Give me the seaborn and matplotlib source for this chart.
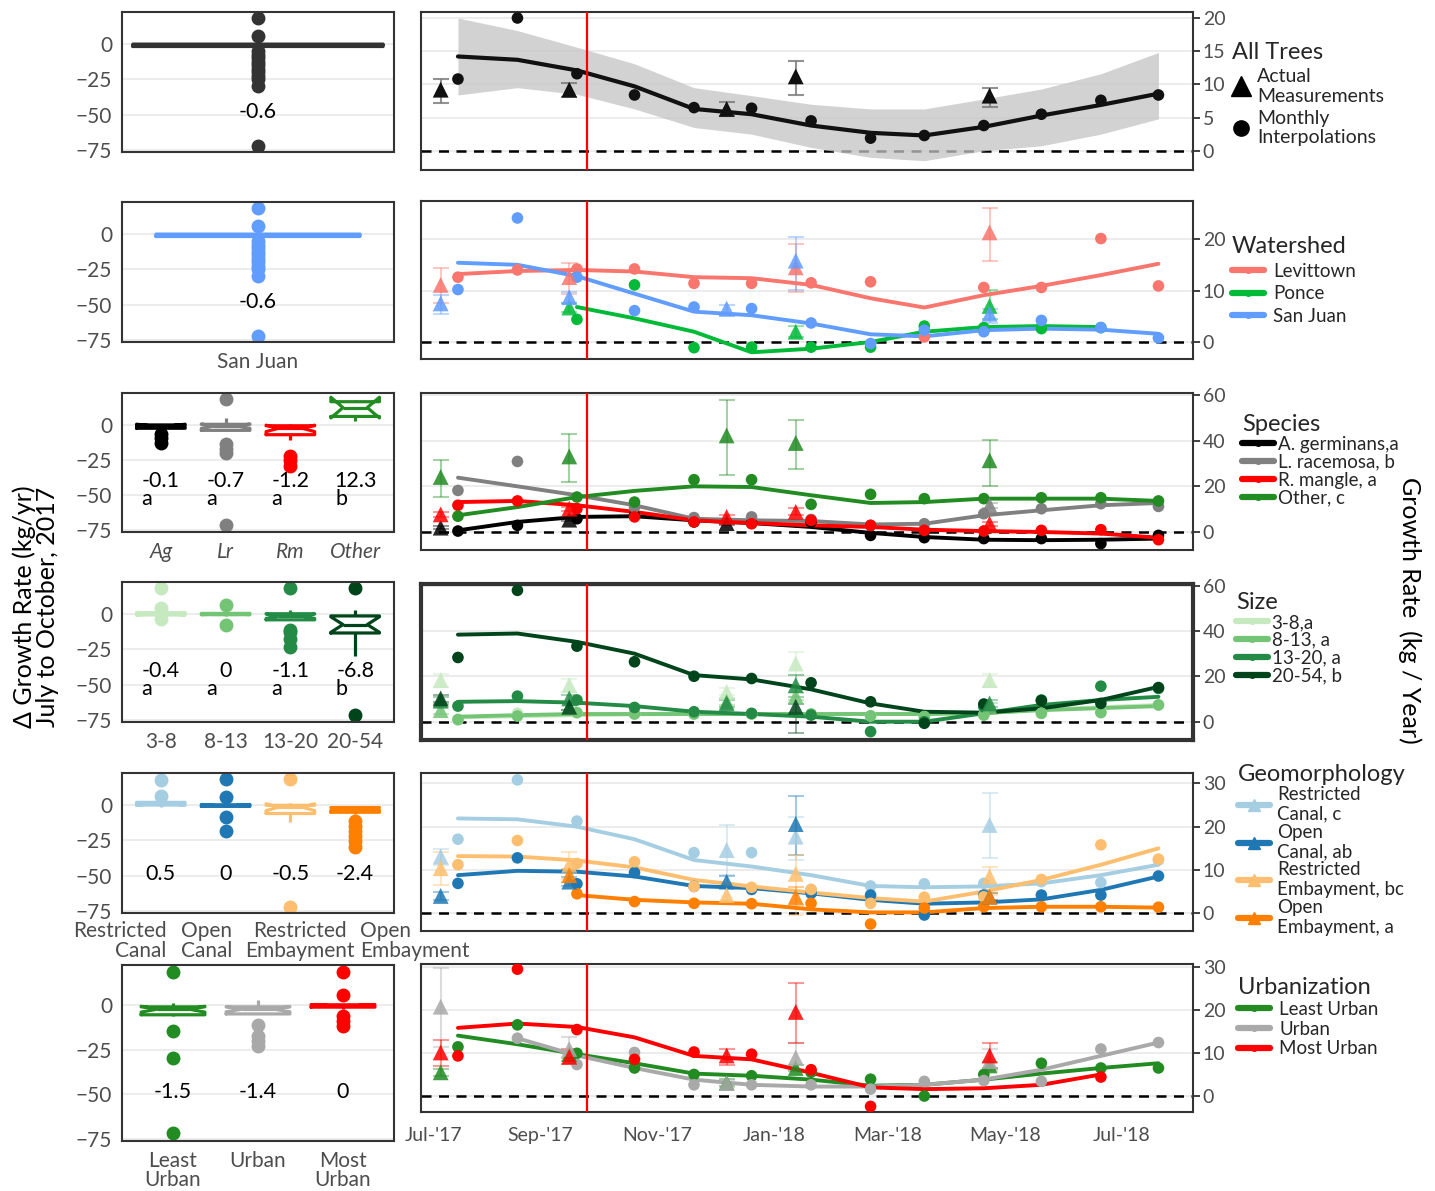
import numpy as np
import pandas as pd
import matplotlib
matplotlib.use("Agg")
import matplotlib.pyplot as plt
import matplotlib.dates as mdates
from matplotlib.lines import Line2D
from matplotlib.transforms import blended_transform_factory, ScaledTranslation
import seaborn as sns

sns.set_style("white")
plt.rcParams['font.family'] = ['Lato', 'DejaVu Sans']

# ---------------------------------------------------------------- data
month_dates = ["2017-07-20", "2017-08-20", "2017-09-20", "2017-10-20", "2017-11-20",
               "2017-12-20", "2018-01-20", "2018-02-20", "2018-03-20", "2018-04-20",
               "2018-05-20", "2018-06-20", "2018-07-20"]
meas_dates = ["2017-07-11", "2017-09-16", "2017-12-07", "2018-01-12", "2018-04-23"]
hurricane_date = "2017-09-25"

# Row 1: all trees
all_circ = [10.8, 20.0, 11.6, 8.4, 6.5, 6.4, 4.5, 1.9, 2.3, 3.8, 5.5, 7.6, 8.4]
all_smooth = [14.2, 13.7, 12.1, 9.7, 6.3, 5.5, 3.8, 2.7, 2.3, 3.6, 5.3, 6.9, 8.6]
all_ci_hi = [20.0, 18.1, 15.6, 13.1, 9.5, 8.3, 7.0, 6.3, 6.3, 7.8, 9.3, 11.6, 14.8]
all_ci_lo = [8.4, 9.5, 8.5, 6.3, 3.5, 2.5, 0.5, -1.0, -1.5, 0.0, 0.75, 2.5, 4.8]
all_tri = {"All": [9.2, 9.2, 6.3, 11.2, 8.3]}
all_tri_lo = {"All": [7.2, 8.1, 5.2, 8.4, 6.6]}
all_tri_hi = {"All": [10.8, 10.2, 7.4, 13.5, 9.5]}

# Row 2: watershed
ws_groups = ["Levittown", "Ponce", "San Juan"]
ws_colors = ["#F8766D", "#00BA38", "#619CFF"]
ws_circ = {
    "Levittown": [12.6, 14.0, 14.2, 14.2, 11.4, 11.4, 11.5, 11.7, 1.0, 10.6, 10.6, 20.1, 10.9],
    "Ponce": [None, None, 4.4, 11.1, -1.1, -1.0, -1.0, -1.0, 3.1, 2.8, 2.6, 2.8, None],
    "San Juan": [10.2, 24.1, 12.6, 6.1, 6.8, 6.5, 3.7, -0.3, 2.3, 2.0, 4.2, 2.8, 0.8],
}
ws_smooth = {
    "Levittown": [13.2, 13.8, 14.0, 13.7, 12.6, 12.4, 11.1, 8.5, 6.7, 9.1, 10.9, 13.0, 15.2],
    "Ponce": [None, None, 6.8, 4.6, 2.0, -2.0, -1.3, 0.0, 2.0, 2.9, 3.1, 2.9, None],
    "San Juan": [15.4, 15.0, 12.8, 9.4, 5.9, 5.2, 3.6, 1.5, 1.1, 2.3, 2.6, 2.4, 1.6],
}
ws_tri = {"Levittown": [11.1, 12.6, None, 14.5, 21.3],
          "Ponce": [None, 6.7, None, 2.0, 7.0],
          "San Juan": [7.5, 8.7, 6.5, 15.8, 5.5]}
ws_tri_lo = {"Levittown": [7.5, 9.4, None, 9.8, 15.8],
             "Ponce": [None, 5.8, None, 1.0, 4.5],
             "San Juan": [5.4, 7.6, 5.0, 10.1, 3.6]}
ws_tri_hi = {"Levittown": [14.3, 15.3, None, 19.1, 26.1],
             "Ponce": [None, 7.6, None, 3.2, 10.1],
             "San Juan": [9.1, 9.8, 7.2, 20.5, 6.5]}

# Row 3: species
sp_groups = ["A. germinans,a", "L. racemosa, b", "R. mangle, a", "Other, c"]
sp_colors = ["#000000", "#808080", "#FF0000", "#228B22"]
sp_circ = {
    "A. germinans,a": [0.4, 2.9, 5.8, 7.3, 4.4, 3.9, 4.4, -1.5, -2.5, -2.9, -2.9, -5.1, -1.5],
    "L. racemosa, b": [18.2, 30.9, None, 10.9, 6.3, 6.6, 5.5, 2.9, 3.6, 8.0, 10.2, 12.4, 11.2],
    "R. mangle, a": [11.7, 13.6, 10.2, 6.6, 4.4, 3.6, 5.1, 2.9, 0.7, 0.4, 0.7, 1.0, -3.4],
    "Other, c": [6.9, None, 15.3, 13.1, 22.9, 22.9, 12.1, 16.5, 14.6, 14.6, 15.0, 15.0, 13.6],
}
sp_smooth = {
    "A. germinans,a": [0.7, 4.4, 6.6, 6.9, 5.1, 3.9, 2.2, -0.4, -2.2, -3.4, -3.6, -3.4, -2.9],
    "L. racemosa, b": [23.8, 20.0, 16.1, 11.7, 5.8, 5.1, 4.8, 3.3, 3.6, 7.3, 9.5, 11.7, 12.7],
    "R. mangle, a": [13.1, 13.6, 11.7, 8.8, 5.1, 3.9, 2.9, 2.2, 1.0, 0.4, 0.0, -0.7, -2.5],
    "Other, c": [7.3, 10.9, 15.3, 18.0, 20.0, 19.7, 16.1, 12.7, 13.1, 14.6, 14.6, 14.6, 13.6],
}
sp_tri = {"A. germinans,a": [1.9, 5.4, 3.9, None, None],
          "L. racemosa, b": [None, None, None, None, 11.7],
          "R. mangle, a": [7.7, 10.2, 6.6, 8.8, 3.6],
          "Other, c": [24.1, 33.1, 42.3, 39.0, 31.4]}
sp_tri_lo = {"A. germinans,a": [1.1, 4.6, 3.1, None, None],
             "L. racemosa, b": [None, None, None, None, 10.5],
             "R. mangle, a": [6.7, 9.3, 5.8, 7.3, 2.8],
             "Other, c": [15.3, 21.9, 25.1, 27.7, 20.0]}
sp_tri_hi = {"A. germinans,a": [2.7, 6.2, 4.7, None, None],
             "L. racemosa, b": [None, None, None, None, 12.9],
             "R. mangle, a": [8.7, 11.1, 7.4, 10.3, 4.4],
             "Other, c": [31.4, 42.8, 58.0, 48.9, 40.4]}

# Row 4: size
sz_groups = ["3-8,a", "8-13, a", "13-20, a", "20-54, b"]
sz_colors = ["#C7E9C0", "#74C476", "#238B45", "#00441B"]
sz_circ = {
    "3-8,a": [0.7, 3.7, 4.0, 3.4, 3.4, 3.4, 3.4, 2.6, 2.2, 3.0, 3.7, 4.4, 7.4],
    "8-13, a": [1.0, 2.5, 4.0, 3.4, 3.4, 3.4, 3.4, 2.6, 2.2, 2.9, 3.7, 4.0, 7.4],
    "13-20, a": [6.9, 11.3, 9.6, 6.3, 4.4, 3.7, 2.9, -4.4, 0.0, 6.6, 9.6, 15.7, 14.7],
    "20-54, b": [28.4, 58.1, 33.4, 26.5, 20.1, 19.1, 17.2, 8.8, -0.7, 7.8, 9.3, 8.1, 15.1],
}
sz_smooth = {
    "3-8,a": [1.9, 2.4, 2.9, 3.2, 3.4, 3.4, 3.4, 3.4, 3.5, 3.9, 5.4, 6.4, 7.4],
    "8-13, a": [2.2, 2.9, 3.4, 3.4, 3.4, 3.4, 3.4, 3.4, 3.4, 3.8, 5.1, 6.0, 6.9],
    "13-20, a": [8.8, 9.1, 8.4, 6.9, 4.4, 3.4, 2.2, 0.0, 0.0, 3.7, 7.4, 9.6, 11.0],
    "20-54, b": [38.5, 39.0, 35.3, 30.1, 20.6, 18.7, 14.3, 8.1, 4.4, 4.0, 5.9, 9.6, 15.4],
}
sz_tri = {"3-8,a": [18.4, 16.2, 13.2, 25.7, 18.4],
          "8-13, a": [5.1, 6.6, 8.8, 11.3, 6.6],
          "13-20, a": [9.3, 10.3, 8.1, 16.2, 8.1],
          "20-54, b": [10.3, 6.6, None, 6.6, None]}
sz_tri_lo = {"3-8,a": [15.4, 13.2, 11.7, 20.6, 15.4],
             "8-13, a": [3.6, 5.1, 7.3, 9.8, 5.1],
             "13-20, a": [7.8, 8.8, 6.6, 11.0, 6.6],
             "20-54, b": [8.8, 5.1, None, -5.0, None]}
sz_tri_hi = {"3-8,a": [21.3, 19.1, 14.7, 30.8, 21.3],
             "8-13, a": [6.6, 8.1, 10.3, 12.8, 8.1],
             "13-20, a": [10.8, 11.8, 9.6, 20.6, 9.6],
             "20-54, b": [11.8, 8.1, None, 8.0, None]}

# Row 5: geomorphology
ge_groups = ["Restricted\nCanal, c", "Open\nCanal, ab", "Restricted\nEmbayment, bc", "Open\nEmbayment, a"]
ge_colors = ["#A6CEE3", "#1F78B4", "#FDBF6F", "#FF7F00"]
ge_circ = {
    ge_groups[0]: [17.1, 30.8, 21.3, None, 14.0, 14.0, 5.5, 6.3, 6.8, 6.9, 7.3, 7.1, 12.3],
    ge_groups[1]: [6.9, 12.8, 6.8, 9.4, 6.2, 5.5, 4.6, 4.2, -0.4, 4.2, 4.2, 4.2, 8.6],
    ge_groups[2]: [11.2, 16.8, 11.5, 11.9, 6.2, 6.0, 5.5, 2.3, 3.7, 3.8, 7.8, 15.8, 12.5],
    ge_groups[3]: [None, None, 4.5, 2.7, 2.3, 2.2, 2.3, -2.5, 1.2, 1.5, 1.5, 1.5, 1.4],
}
ge_smooth = {
    ge_groups[0]: [21.9, 21.7, 20.0, 17.1, 12.3, 10.8, 8.8, 6.3, 6.0, 6.2, 6.9, 8.8, 11.2],
    ge_groups[1]: [8.8, 9.8, 9.6, 8.5, 6.3, 5.8, 4.6, 3.1, 2.2, 2.5, 3.2, 5.4, 8.5],
    ge_groups[2]: [13.2, 13.1, 12.2, 10.6, 7.7, 6.2, 4.8, 3.5, 2.7, 5.0, 7.7, 11.2, 15.0],
    ge_groups[3]: [None, None, 4.2, 3.1, 2.5, 2.2, 0.9, 0.2, 0.2, 1.2, 1.5, 1.5, 1.3],
}
ge_tri = {ge_groups[0]: [13.1, None, 14.6, 17.7, 20.4],
          ge_groups[1]: [4.0, 7.3, 7.3, 20.6, 3.8],
          ge_groups[2]: [10.4, 11.2, 4.2, 9.1, 8.5],
          ge_groups[3]: [None, 8.8, None, 3.8, 3.8]}
ge_tri_lo = {ge_groups[0]: [11.2, None, 8.8, 12.3, 12.7],
             ge_groups[1]: [3.0, 6.3, 6.2, 13.5, 3.0],
             ge_groups[2]: [6.5, 8.0, 2.3, -0.4, 4.2],
             ge_groups[3]: [None, 7.3, None, 2.0, 3.0]}
ge_tri_hi = {ge_groups[0]: [14.9, None, 20.4, 22.3, 27.7],
             ge_groups[1]: [5.0, 8.3, 8.5, 27.1, 4.6],
             ge_groups[2]: [14.2, 14.2, 6.9, 13.5, 10.8],
             ge_groups[3]: [None, 10.3, None, 6.0, 4.6]}

# Row 6: urbanization
ur_groups = ["Least Urban", "Urban", "Most Urban"]
ur_colors = ["#228B22", "#A9A9A9", "#FF0000"]
ur_circ = {
    "Least Urban": [11.4, 16.5, 9.9, 6.5, 5.0, 4.7, 5.5, 3.9, 0.0, 5.0, 7.6, 6.5, 6.5],
    "Urban": [None, 13.4, 7.3, 10.1, 2.6, 2.6, 2.6, 1.6, 3.4, 3.6, 3.4, 10.9, 12.4],
    "Most Urban": [9.3, 29.4, 15.4, 8.5, 10.2, 9.7, 6.1, -2.4, None, None, None, 4.4, None],
}
ur_smooth = {
    "Least Urban": [14.0, 12.0, 9.7, 7.6, 5.2, 4.7, 3.8, 2.4, 2.6, 3.8, 5.2, 6.5, 7.6],
    "Urban": [None, 13.4, 9.4, 6.5, 3.8, 2.6, 2.2, 2.2, 2.6, 3.8, 6.1, 9.3, 12.4],
    "Most Urban": [15.8, 16.8, 16.0, 13.6, 9.3, 8.5, 5.4, 2.0, 1.6, 1.8, 2.6, 5.0, None],
}
ur_tri = {"Least Urban": [5.5, 9.7, 3.1, 6.5, 7.1],
          "Urban": [20.7, 10.9, 3.0, 8.9, 8.1],
          "Most Urban": [10.1, 9.1, 9.4, 19.5, 9.4]}
ur_tri_lo = {"Least Urban": [4.7, 8.9, 2.3, 5.7, 6.3],
             "Urban": [11.3, 8.1, 2.2, 6.2, 5.7],
             "Most Urban": [7.0, 7.4, 7.1, 12.4, 6.5]}
ur_tri_hi = {"Least Urban": [6.3, 10.5, 3.9, 7.3, 7.9],
             "Urban": [29.6, 13.6, 3.8, 12.4, 10.8],
             "Most Urban": [13.1, 10.8, 11.0, 26.2, 12.4]}

# Left panels: change in growth rate, July to October 2017 (kg/yr)
all_change = [18.5, 6.0, -5.0, -7.5, -10.0, -12.5, -15.0, -17.5, -20.0, -22.5, -25.0, -29.5, -72.0,
              -2.2, -2.0, -1.9, -1.8, -1.7, -1.6, -1.5, -1.5, -1.4, -1.3, -1.2, -1.2, -1.1, -1.0,
              -1.0, -0.9, -0.9, -0.8, -0.8, -0.7, -0.7, -0.6, -0.6, -0.6, -0.5, -0.5, -0.4, -0.4,
              -0.3, -0.3, -0.2, -0.2, -0.1, -0.1, 0.0, 0.0, 0.1, 0.1, 0.2, 0.2, 0.3, 0.3, 0.4,
              0.4, 0.5, 0.5, 0.6, 0.7]
sp_box_cats = ["Ag", "Lr", "Rm", "Other"]
sp_change = {
    "Ag": [0.6, 0.3, 0.0, -0.1, -0.1, -0.3, -0.8, -1.5, -2.2, -2.6, 0.2, -0.5, -6.5, -9.5, -13.0],
    "Lr": [5.0, 2.0, 0.8, 0.5, 0.0, -0.5, -0.7, -0.9, -1.5, -2.5, -3.3, -4.5, 0.3, -1.0,
           18.3, -13.3, -16.9, -19.9, -71.4],
    "Rm": [0.8, 0.3, 0.0, -0.2, -0.5, -0.8, -1.0, -1.2, -1.5, -2.5, -4.0, -5.0, -5.8, -6.0,
           -8.0, -11.0, -22.0, -25.0, -29.0],
    "Other": [18.0, 16.5, 12.3, 6.0, 3.0],
}
sp_box_means = ["-0.1", "-0.7", "-1.2", "12.3"]
sp_box_letters = ["a", "a", "a", "b"]

sz_box_cats = ["3-8", "8-13", "13-20", "20-54"]
sz_change = {
    "3-8": [1.5, 1.0, 0.5, 0.0, -0.4, -0.4, -0.8, -1.2, 0.2, -0.6, 18.8, 4.5, -3.5],
    "8-13": [1.2, 0.8, 0.4, 0.0, 0.0, -0.3, -0.7, -1.0, 0.2, -0.2, 6.5, -8.0],
    "13-20": [2.9, 1.0, 0.5, 0.0, -0.5, -1.1, -1.5, -2.5, -3.6, -4.5, 0.8, -3.0, -1.0, -2.0,
              18.8, -11.5, -12.6, -17.9, -23.3],
    "20-54": [2.9, 0.5, -1.9, -4.0, -6.8, -8.0, -10.7, -12.0, -17.4, 18.8, -29.3, -71.7],
}
sz_box_means = ["-0.4", "0", "-1.1", "-6.8"]
sz_box_letters = ["a", "a", "a", "b"]

ge_box_cats = ["Restricted Canal", "Open Canal", "Restricted Embayment", "Open Embayment"]
ge_change = {
    "Restricted Canal": [2.5, 2.1, 1.5, 1.0, 0.5, 0.5, 0.0, -0.4, -0.7, -1.0, 1.2, 0.2, 17.8, 6.4],
    "Open Canal": [0.5, 0.3, 0.0, 0.0, 0.0, -0.3, -0.8, -1.2, -1.5, 0.2, -0.5, 0.1,
                   18.2, 5.9, -8.3, -18.0],
    "Restricted Embayment": [1.5, 0.5, 0.0, -0.5, -0.5, -2.0, -4.0, -6.6, -8.0, -12.0, -1.0,
                             -3.0, 18.2, -71.8],
    "Open Embayment": [-6.0, -5.2, -5.0, -4.8, -4.5, -4.0, -3.6, -3.2, -3.0, -2.8, -2.6, -2.5,
                       -2.4, -2.4, -2.3, -2.2, -2.0, -1.8, -1.6, -1.5, -1.4, -1.3, -1.2, -1.0,
                       -0.8, -0.5, -11.4, -14.9, -18.5, -22.0, -25.6, -29.6],
}
ge_box_means = ["0.5", "0", "-0.5", "-2.4"]

ur_box_cats = ["Least Urban", "Urban", "Most Urban"]
ur_change = {
    "Least Urban": [1.3, 0.0, -0.6, -0.8, -1.0, -1.2, -1.5, -1.8, -2.5, -3.5, -4.2, -4.7, -5.5,
                    -6.2, 18.9, -14.6, -29.6, -71.9],
    "Urban": [2.8, 0.0, -0.6, -0.8, -1.0, -1.4, -1.4, -1.8, -2.5, -3.2, -4.0, -4.3, -5.0, -0.3,
              -10.9, -17.4, -20.3, -22.7],
    "Most Urban": [0.8, 0.5, 0.4, 0.2, 0.0, 0.0, 0.0, -0.2, -0.5, -1.0, -1.5, -1.8, 0.1, -0.3,
                   0.3, -0.8, 18.9, 6.0, -6.2, -9.0, -11.8],
}
ur_box_means = ["-1.5", "-1.4", "0"]

# ---------------------------------------------------------------- layout
FW, FH = 1435, 1191
fig = plt.figure(figsize=(FW / 100, FH / 100), dpi=100)


def rect(x0, x1, y0, y1):
    return [x0 / FW, 1 - y1 / FH, (x1 - x0) / FW, (y1 - y0) / FH]


left_rows = [(12, 152), (202, 342), (393, 532), (582, 722), (773, 913), (965, 1141)]
right_rows = [(12, 170), (201, 359), (393, 550), (584, 740), (773, 931), (964, 1112)]
LX0, LX1 = 122, 394
RX0, RX1 = 421, 1193

FRAME = "#333333"
TICKC = "#4D4D4D"
GRID = "#EBEBEB"

mnum = mdates.date2num(pd.to_datetime(month_dates))
tnum = mdates.date2num(pd.to_datetime(meas_dates))
hnum = mdates.date2num(pd.Timestamp(hurricane_date))
xmin = mdates.date2num(pd.Timestamp("2017-06-30 18:00"))
xmax = mdates.date2num(pd.Timestamp("2018-08-07"))


def long_df(dct, xs, order):
    rows = []
    for g in order:
        for x, v in zip(xs, dct[g]):
            if v is not None:
                rows.append((x, v, g))
    return pd.DataFrame(rows, columns=["date", "value", "group"])


def style_right(ax, ylim, yticks, bottom, frame_lw=1.5):
    ax.set_xlim(xmin, xmax)
    ax.set_ylim(*ylim)
    ax.set_yticks(yticks)
    ax.yaxis.tick_right()
    ax.grid(axis="y", color=GRID, lw=1.3)
    ax.grid(axis="x", visible=False)
    ax.set_axisbelow(True)
    ax.axhline(0, color="black", ls=(0, (4, 3)), lw=1.8, zorder=1)
    ax.axvline(hnum, color="red", lw=1.6, zorder=6)
    ax.xaxis.set_major_locator(mdates.MonthLocator(bymonth=[1, 3, 5, 7, 9, 11]))
    ax.xaxis.set_minor_locator(mdates.MonthLocator())
    ax.xaxis.set_major_formatter(mdates.DateFormatter("%b-'%y"))
    ax.tick_params(axis="x", which="both", direction="out", length=6, width=1.3,
                   color=FRAME, labelbottom=bottom, labelsize=14, labelcolor=TICKC, pad=5)
    ax.tick_params(axis="y", direction="out", length=5, width=1.3, color=FRAME,
                   labelright=True, labelleft=False, labelsize=14, labelcolor=TICKC, pad=2)
    for s in ax.spines.values():
        s.set_color(FRAME)
        s.set_linewidth(frame_lw)
    ax.set_xlabel("")
    ax.set_ylabel("")


def draw_series(ax, groups, colors, circ, smooth, tri, tri_lo, tri_hi, tri_alpha=0.85,
                lw=2.8, eb_color=None):
    pal = dict(zip(groups, colors))
    ds = long_df(smooth, mnum, groups)
    dc = long_df(circ, mnum, groups)
    dt = long_df(tri, tnum, groups)
    for g in groups:
        for x, v, lo, hi in zip(tnum, tri[g], tri_lo[g], tri_hi[g]):
            if v is None:
                continue
            ax.errorbar([x], [v], yerr=[[v - lo], [hi - v]], fmt="none",
                        ecolor=eb_color or pal[g], alpha=0.4 if eb_color is None else 0.8,
                        capsize=6, elinewidth=1.5, capthick=1.5, zorder=2)
    sns.lineplot(data=ds, x="date", y="value", hue="group", hue_order=groups, palette=pal,
                 lw=lw, legend=False, ax=ax, zorder=3, estimator=None, sort=True)
    sns.scatterplot(data=dc, x="date", y="value", hue="group", hue_order=groups, palette=pal,
                    s=70, marker="o", edgecolor="none", linewidth=0, legend=False, ax=ax, zorder=4)
    sns.scatterplot(data=dt, x="date", y="value", hue="group", hue_order=groups, palette=pal,
                    s=130, marker="^", edgecolor="none", linewidth=0, alpha=tri_alpha,
                    legend=False, ax=ax, zorder=5)


def draw_box(ax, cats, data, colors, width, means, mean_y, letters=None, letter_y=None):
    rows = [(c, v) for c in cats for v in data[c]]
    df = pd.DataFrame(rows, columns=["group", "value"])
    pal = dict(zip(cats, colors))
    sns.boxplot(data=df, x="group", y="value", hue="group", order=cats, hue_order=cats,
                palette=pal, fill=False, width=width, linewidth=2.3, notch=True,
                showcaps=False, flierprops=dict(marker="o", markersize=9),
                legend=False, ax=ax)
    for ln in ax.lines:
        if ln.get_linestyle() in ("None", "none", "") and ln.get_marker() == "o":
            ln.set_markerfacecolor(ln.get_markeredgecolor())
    n = len(cats)
    pad = 0.1 if n > 1 else 0.0
    ax.set_xlim(-0.5 - pad, n - 0.5 + pad)
    ax.set_ylim(-76.3, 22.7)
    ax.set_yticks([0, -25, -50, -75])
    ax.grid(axis="y", color=GRID, lw=1.3)
    ax.grid(axis="x", visible=False)
    ax.set_axisbelow(True)
    for i, m in enumerate(means):
        ax.text(i, mean_y, m, ha="center", va="center", fontsize=15.5, color="black")
    if letters:
        for i, l in enumerate(letters):
            ax.text(i - 0.30, letter_y, l, ha="left", va="center", fontsize=15.5, color="black")
    ax.tick_params(axis="both", direction="out", length=5, width=1.3, color=FRAME,
                   labelsize=15, labelcolor=TICKC, pad=2)
    for s in ax.spines.values():
        s.set_color(FRAME)
        s.set_linewidth(1.5)
    ax.set_xlabel("")
    ax.set_ylabel("")


laxes = [fig.add_axes(rect(LX0, LX1, *r)) for r in left_rows]
raxes = [fig.add_axes(rect(RX0, RX1, *r)) for r in right_rows]

# ---- left row 1 & 2
draw_box(laxes[0], ["All"], {"All": all_change}, ["#333333"], 0.92, ["-0.6"], -48)
laxes[0].set_xticks([0])
laxes[0].set_xticklabels([""])
draw_box(laxes[1], ["San Juan"], {"San Juan": all_change}, ["#619CFF"], 0.75, ["-0.6"], -48)
# ---- species
draw_box(laxes[2], sp_box_cats, sp_change, sp_colors, 0.75, sp_box_means, -40,
         sp_box_letters, -53)
for t in laxes[2].get_xticklabels():
    t.set_fontstyle("italic")
# ---- size
draw_box(laxes[3], sz_box_cats, sz_change, sz_colors, 0.75, sz_box_means, -40,
         sz_box_letters, -53)
# ---- geomorph
draw_box(laxes[4], ge_box_cats, ge_change, ge_colors, 0.75, ge_box_means, -49)
laxes[4].set_xticks(range(4))
laxes[4].set_xticklabels([""] * 4)
tr = blended_transform_factory(laxes[4].transData, laxes[4].transAxes)
ge_tick_txt = [("Restricted\nCanal", 0.09, "right"), ("Open\nCanal", 0.70, "center"),
               ("Restricted\nEmbayment", 2.15, "center"), ("Open\nEmbayment", 3.08, "left")]
for txt, xx, ha in ge_tick_txt:
    laxes[4].text(xx, -0.06, txt, transform=tr, ha=ha, va="top", multialignment=ha,
                  fontsize=15, color=TICKC, linespacing=1.0)
# ---- urban
draw_box(laxes[5], ur_box_cats, ur_change, ur_colors, 0.75, ur_box_means, -49)
laxes[5].set_xticks(range(3))
laxes[5].set_xticklabels(["Least\nUrban", "Urban", "Most\nUrban"], linespacing=0.95)

# ---------------------------------------------------------------- right panels
ax = raxes[0]
ax.fill_between(mnum, all_ci_lo, all_ci_hi, color="#C4C4C4", alpha=0.75, lw=0, zorder=2)
draw_series(ax, ["All"], ["#111111"], {"All": all_circ}, {"All": all_smooth},
            all_tri, all_tri_lo, all_tri_hi, tri_alpha=1.0, lw=3.0, eb_color="#777777")
style_right(ax, (-2.9, 20.9), [0, 5, 10, 15, 20], False)

draw_series(raxes[1], ws_groups, ws_colors, ws_circ, ws_smooth, ws_tri, ws_tri_lo, ws_tri_hi)
style_right(raxes[1], (-3.3, 27.4), [0, 10, 20], False)

draw_series(raxes[2], sp_groups, sp_colors, sp_circ, sp_smooth, sp_tri, sp_tri_lo, sp_tri_hi)
style_right(raxes[2], (-7.9, 60.9), [0, 20, 40, 60], False)

draw_series(raxes[3], sz_groups, sz_colors, sz_circ, sz_smooth, sz_tri, sz_tri_lo, sz_tri_hi)
style_right(raxes[3], (-8.1, 60.9), [0, 20, 40, 60], False, frame_lw=3.0)

draw_series(raxes[4], ge_groups, ge_colors, ge_circ, ge_smooth, ge_tri, ge_tri_lo, ge_tri_hi)
style_right(raxes[4], (-4.1, 32.4), [0, 10, 20, 30], False)

draw_series(raxes[5], ur_groups, ur_colors, ur_circ, ur_smooth, ur_tri, ur_tri_lo, ur_tri_hi)
style_right(raxes[5], (-3.7, 30.6), [0, 10, 20, 30], True)

# shift first date label right, as in the reference
fig.canvas.draw()
first = raxes[5].get_xticklabels()[0]
first.set_transform(first.get_transform() + ScaledTranslation(12 / 100, 0, fig.dpi_scale_trans))

# ---------------------------------------------------------------- legends
def add_legend(ax, handles, labels, title, x, ytop, fs=13.5, tfs=17, spacing=0.15,
               hl=1.7, htp=0.5):
    leg = ax.legend(handles, labels, title=title, loc="upper left",
                    bbox_to_anchor=(x / FW, 1 - ytop / FH), bbox_transform=fig.transFigure,
                    frameon=False, fontsize=fs, title_fontsize=tfs, labelspacing=spacing,
                    handlelength=hl, handletextpad=htp, borderpad=0, borderaxespad=0,
                    alignment="left")
    return leg


def line_handles(colors, marker="o", ms=4):
    return [Line2D([], [], color=c, lw=4.5, marker=marker, ms=ms) for c in colors]


add_legend(raxes[0],
           [Line2D([], [], color="black", ls="", marker="^", ms=14),
            Line2D([], [], color="black", ls="", marker="o", ms=11)],
           ["Actual\nMeasurements", "Monthly\nInterpolations"], "All Trees", 1232, 42,
           fs=14, spacing=0.25, hl=0.9, htp=0.4)
add_legend(raxes[1], line_handles(ws_colors), ws_groups, "Watershed", 1232, 236, spacing=0.3)
add_legend(raxes[2], line_handles(sp_colors), sp_groups, "Species", 1242, 414,
           spacing=0.05, htp=0.2)
add_legend(raxes[3], line_handles(sz_colors), sz_groups, "Size", 1236, 592,
           spacing=0.05, htp=0.2)
add_legend(raxes[4], line_handles(ge_colors, marker="^", ms=9), ge_groups, "Geomorphology",
           1238, 764, spacing=0.05, htp=0.4)
add_legend(raxes[5], line_handles(ur_colors), ur_groups, "Urbanization", 1238, 977,
           spacing=0.15, htp=0.5)

# ---------------------------------------------------------------- axis titles
fig.text(36 / FW, 1 - 607 / FH, "\u0394 Growth Rate (kg/yr)\nJuly to October, 2017",
         rotation=90, ha="center", va="center", fontsize=18, color="black", linespacing=1.0)
fig.text(1410 / FW, 1 - 610 / FH, "Growth Rate  (kg / Year)", rotation=-90,
         ha="center", va="center", fontsize=18, color="black")

fig.savefig("out.png", dpi=100)
